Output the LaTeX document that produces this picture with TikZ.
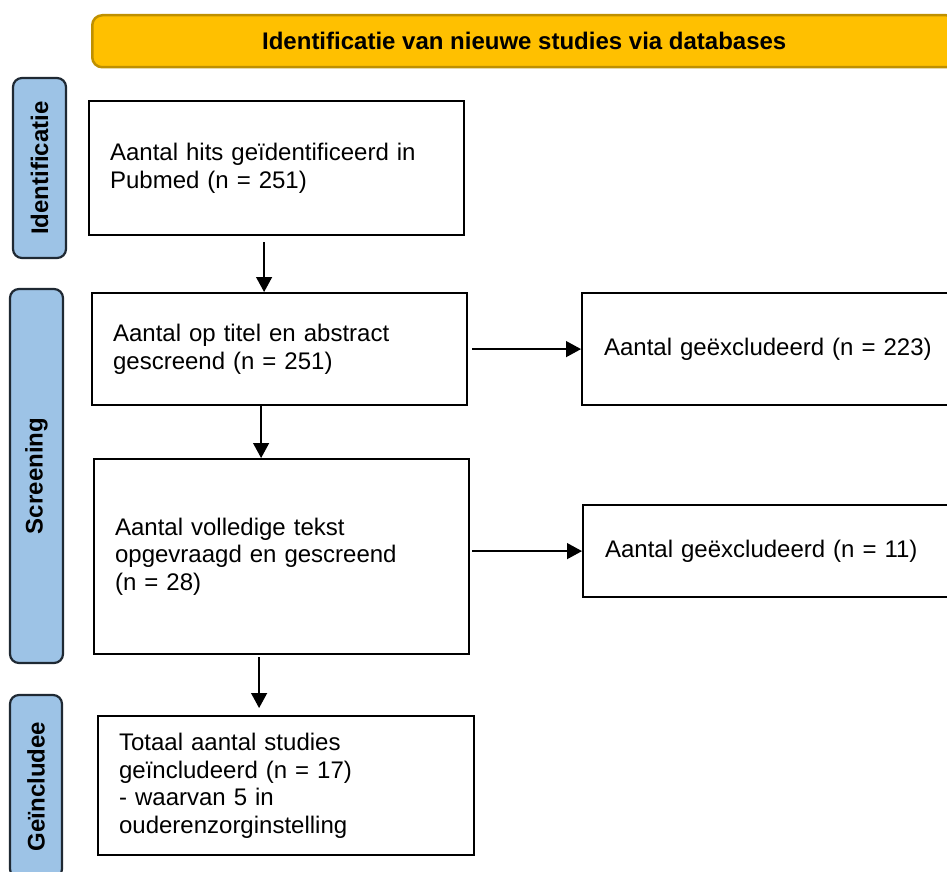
\documentclass[tikz,border=0pt]{standalone}
\usepackage{fontspec}
\setmainfont{Liberation Sans}
\usetikzlibrary{arrows.meta}
\definecolor{bannerfill}{HTML}{FFC000}
\definecolor{bannerline}{HTML}{BF9000}
\definecolor{phasefill}{HTML}{9DC3E6}
\definecolor{phaseline}{HTML}{1F2933}

\begin{document}
\begin{tikzpicture}[x=1pt,y=-1pt,
    every node/.style={font=\fontsize{24}{27.6}\selectfont},
    box/.style={draw,line width=2.2pt,anchor=north west,align=left,inner xsep=21pt},
    phase/.style={draw=phaseline,fill=phasefill,line width=2.2pt,rounded corners=9pt,
      rotate=90,font=\bfseries\fontsize{24}{27.6}\selectfont},
    arr/.style={line width=1.3pt,-{Triangle[length=15pt,width=16pt]}}]
    \useasboundingbox (0,0) rectangle (947,872);
    % banner
    \node[draw=bannerline,fill=bannerfill,line width=2.5pt,rounded corners=10pt,
      anchor=north west,minimum width=864pt,minimum height=52pt,
      font=\bfseries\fontsize{24}{27.6}\selectfont] (head) at (91,14)
      {Identificatie van nieuwe studies via databases};
    % phases
    \node[phase,minimum width=180pt,minimum height=53pt] (lblid) at (39.5,168) {Identificatie};
    \node[phase,minimum width=374pt,minimum height=53pt] (lblscr) at (36.5,476) {Screening};
    \node[phase,minimum width=183pt,minimum height=52pt] (lblinc) at (36,786.5) {Geïncludee};
    % boxes
    \node[box,minimum width=375pt,minimum height=134pt,text width=333pt] (hits) at (88,100)
      {Aantal hits geïdentificeerd in\\Pubmed (n = 251)};
    \node[box,minimum width=375pt,minimum height=112pt,text width=333pt] (screen) at (91,292)
      {Aantal op titel en abstract\\gescreend (n = 251)};
    \node[box,minimum width=400pt,minimum height=112pt,text width=356pt] (excl1) at (581,292)
      {Aantal geëxcludeerd (n = 223)};
    \node[box,minimum width=375pt,minimum height=195pt,text width=333pt] (full) at (93,458)
      {Aantal volledige tekst\\opgevraagd en gescreend\\(n = 28)};
    \node[box,minimum width=400pt,minimum height=92pt,text width=356pt] (excl2) at (582,504)
      {Aantal geëxcludeerd (n = 11)};
    \node[box,minimum width=376pt,minimum height=139pt,text width=334pt] (incl) at (97,715)
      {Totaal aantal studies\\geïncludeerd (n = 17)\\- waarvan 5 in\\ouderenzorginstelling};
    % arrows
    \draw[arr] ([shift={(-12.5,6)}]hits.south) -- ([shift={(-12.5,0)}]hits.south |- screen.north);
    \draw[arr] ([shift={(-18.5,0)}]screen.south) -- ([shift={(-18.5,0)}]screen.south |- full.north);
    \draw[arr] ([shift={(-22.5,2)}]full.south) -- ([shift={(-22.5,-7)}]full.south |- incl.north);
    \draw[arr] ([shift={(4,0)}]screen.east) -- (excl1.west);
    \draw[arr] ([shift={(2,0)}]excl2.west -| full.east) -- (excl2.west);
\end{tikzpicture}
\end{document}
